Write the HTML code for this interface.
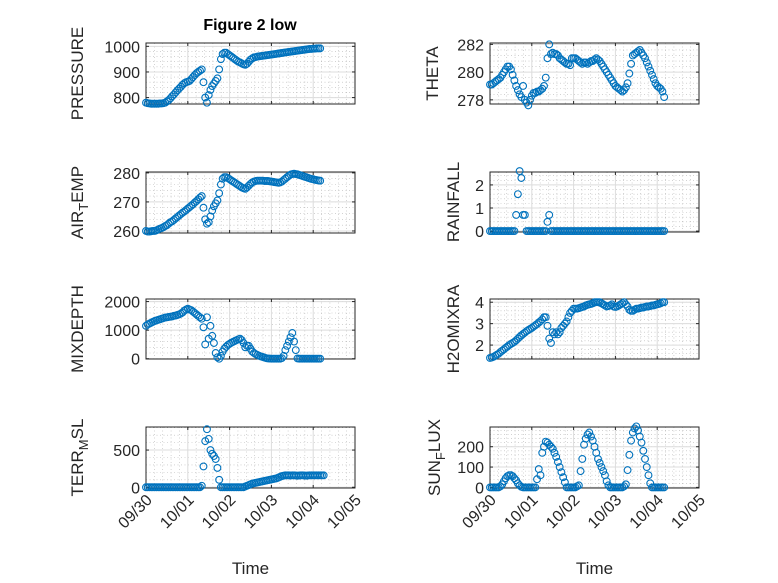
<!DOCTYPE html>
<html><head><meta charset="utf-8">
<style>
html,body{margin:0;padding:0;background:#fff;}
svg{display:block;font-family:"Liberation Sans",sans-serif;}
</style></head>
<body>
<svg id="fig" width="778" height="583" viewBox="0 0 778 583">
<rect x="0" y="0" width="778" height="583" fill="#fff"/>
<text x="250" y="30" text-anchor="middle" font-size="16" font-weight="bold" fill="#000">Figure 2 low</text>
</svg>
<script>
// x categories: hourly samples starting 09/30 00:00 (days since 09/30)
const xTickLabels = ["09/30","10/01","10/02","10/03","10/04","10/05"];
const pressure = [780,778,777,776,776,776,776,776,777,777,778,780,785,
790,797,805,812,820,828,835,842,850,856,860,862,865,872,880,888,895,900,905,910,
860,800,780,810,830,845,855,865,875,910,950,970,975,975,970,
965,960,955,950,945,940,937,933,930,928,932,940,948,953,957,
958,960,961,962,963,964,965,966,967,968,969,970,971,972,973,
974,975,976,977,978,979,980,981,982,983,984,985,986,987,988,989,990,990,991,991,992,992,992];
const airTemp = [260,259.8,259.8,259.9,260,260,260.2,260.5,260.8,261,
261.3,261.7,262,262.5,263,263.3,263.8,264.3,264.8,265.3,265.8,266.3,266.7,267.2,267.7,268.2,268.7,269.2,269.8,270.3,270.9,271.5,272,
268,264,262.5,263,265,267,268.5,269.5,270.5,273,276,278,278.5,278.5,278.2,
277.8,277.4,277,276.6,276.2,275.8,275.4,275,274.7,274.5,275,275.6,276.2,276.7,277,
277.2,277.3,277.3,277.3,277.3,277.2,277.2,277.2,277.1,277,276.9,276.8,276.7,276.6,276.7,277,
277.5,278,278.5,279,279.4,279.6,279.7,279.6,279.5,279.3,279.1,278.9,278.7,278.5,278.3,278.1,277.9,277.8,277.6,277.5,277.4,277.3];
const mixDepth = [1150,1200,1230,1260,1290,1320,1340,1360,1380,1400,1420,1440,1450,
1460,1470,1480,1500,1510,1530,1550,1580,1620,1680,1720,1750,
1720,1700,1650,1600,1550,1500,1450,1400,
1100,500,1450,700,1150,800,550,200,
50,0,100,250,350,420,480,520,
560,590,620,650,680,700,650,550,400,450,450,350,
250,200,160,130,100,80,60,40,20,10,5,0,
0,0,0,0,0,20,100,
300,450,600,750,900,600,300,
10,0,0,0,0,0,0,0,0,0,0,0,0,0];
const terrMsl = [0,0,0,0,0,0,0,0,0,0,0,0,0,0,0,0,0,0,0,0,0,0,0,0,0,0,0,0,0,0,0,0,
20,280,620,780,650,500,450,420,380,260,100,
0,0,0,0,0,0,0,0,0,0,0,0,0,0,
10,20,30,40,50,55,60,65,70,75,80,85,90,95,100,105,110,115,120,130,140,150,155,160,160,160,
158,160,160,158,156,158,160,160,158,156,158,160,160,160,160,160,160,160,160,160];
const theta = [279.1,279.1,279.2,279.3,279.4,279.5,279.6,279.8,280,280.2,280.4,280.4,280.2,
279.8,279.4,279,278.7,278.4,278.2,279,278,277.8,277.6,
278,278.3,278.5,278.5,278.6,278.6,278.7,278.8,279,279.6,
281,282,281.3,281.4,281.3,281.3,281.2,281,
280.9,280.8,280.7,280.6,280.6,280.5,281,281,
281,280.9,280.8,280.7,280.6,280.7,280.7,280.6,280.7,280.8,280.8,280.9,281,280.9,280.8,
280.6,280.4,280.2,280,279.8,279.6,279.4,279.2,279,278.9,278.8,278.7,278.6,278.7,278.9,
279.2,279.9,280.6,281.2,281.3,281.4,281.5,281.6,
281.4,281.2,281,280.7,280.4,280.1,279.8,279.5,279.2,279,278.9,278.8,278.6,278.2];
const rainfall = [0,0,0,0,0,0,0,0,0,0,0,0,0,0,0,0.7,1.6,2.6,2.3,0.7,0.7,0,0,0,0,0,0,0,0,0,0,0,0,0.4,0.7,
0,0,0,0,0,0,0,0,0,0,0,0,0,0,0,0,0,0,0,0,0,0,0,0,0,0,0,0,0,0,0,0,0,0,0,0,0,0,0,0,0,0,0,0,0,0,0,0,0,0,0,0,0,0,0,0,0,0,0,0,0,0,0,0,0,0];
const h2oMix = [1.4,1.42,1.45,1.5,1.55,1.6,1.67,1.74,1.8,1.87,1.93,2.0,2.05,2.1,2.15,2.22,2.3,2.38,2.45,2.52,2.58,2.65,2.7,2.75,2.8,2.86,2.92,2.98,3.05,3.12,3.2,3.3,
3.3,2.9,2.3,2.1,2.6,2.5,2.6,
2.5,2.6,2.8,2.9,3.0,3.1,3.3,3.5,3.6,
3.7,3.7,3.7,3.72,3.75,3.78,3.8,3.85,3.88,3.9,
3.92,3.95,4.0,4.0,4.0,4.0,3.95,3.9,3.85,3.8,3.82,3.85,3.9,3.8,3.78,3.8,3.85,3.9,
3.95,4.0,3.9,3.8,3.65,3.6,3.6,3.65,3.7,3.7,3.72,3.75,3.75,3.78,3.8,3.8,3.82,3.85,3.85,3.88,3.9,3.92,3.95,4.0,4.0];
const sunFlux = [0,0,0,0,0,0,
5,15,30,45,55,60,60,55,45,35,20,10,3,0,
0,0,0,0,0,0,0,
40,90,60,170,
200,225,220,210,200,190,
170,150,125,100,75,50,25,0,
0,0,0,0,0,5,10,
80,140,210,240,260,
270,250,230,200,
170,140,120,100,80,60,30,10,0,
0,0,0,0,0,0,0,5,15,
85,160,230,270,290,300,
280,250,220,180,140,100,60,20,0,
0,0,0,0,0,0,0];
const pressureTicks = [800,900,1000];
const airTempTicks = [260,270,280];
const mixDepthTicks = [0,1000,2000];
const terrTicks = [0,500];
const thetaTicks = [278,280,282];
const rainTicks = [0,1,2];
const h2oTicks = [2,3,4];
const sunTicks = [0,100,200];

const NS = "http://www.w3.org/2000/svg";
const svg = document.getElementById('fig');
function mk(tag, attrs, parent){
  const e = document.createElementNS(NS, tag);
  for (const k in attrs) e.setAttribute(k, attrs[k]);
  (parent||svg).appendChild(e);
  return e;
}
const panels = [
  {name:'pressure', x0:146,x1:355,y0:43,y1:104, ylim:[775,1013], ticks:pressureTicks, data:pressure, label:['PRESSURE'], lx:83, bottom:false},
  {name:'air-temp', x0:146,x1:355,y0:172,y1:233, ylim:[259.3,280.3], ticks:airTempTicks, data:airTemp, label:['AIR','T','EMP'], lx:83, bottom:false},
  {name:'mixdepth', x0:146,x1:355,y0:299,y1:359, ylim:[-10,2090], ticks:mixDepthTicks, data:mixDepth, label:['MIXDEPTH'], lx:83, bottom:false},
  {name:'terr-msl', x0:146,x1:355,y0:427,y1:488, ylim:[-10,810], ticks:terrTicks, data:terrMsl, label:['TERR','M','SL'], lx:83, bottom:true},
  {name:'theta', x0:490,x1:699,y0:43,y1:104, ylim:[277.7,282.1], ticks:thetaTicks, data:theta, label:['THETA'], lx:438, bottom:false},
  {name:'rainfall', x0:490,x1:699,y0:172,y1:232, ylim:[-0.04,2.56], ticks:rainTicks, data:rainfall, label:['RAINFALL'], lx:459, bottom:false},
  {name:'h2omixra', x0:490,x1:699,y0:299,y1:359, ylim:[1.35,4.15], ticks:h2oTicks, data:h2oMix, label:['H2OMIXRA'], lx:459, bottom:false},
  {name:'sun-flux', x0:490,x1:699,y0:427,y1:488, ylim:[-3,297], ticks:sunTicks, data:sunFlux, label:['SUN','F','LUX'], lx:440, bottom:true},
];
panels.forEach(p=>{
  const g = mk('g',{});
  
  
  const xs = d => p.x0 + (d/5)*(p.x1-p.x0);
  const ys = v => p.y1 - (v-p.ylim[0])/(p.ylim[1]-p.ylim[0])*(p.y1-p.y0);
  mk('rect',{x:p.x0,y:p.y0,width:p.x1-p.x0,height:p.y1-p.y0,fill:'#fff'},g);
  for (let d=0; d<5; d+=1){
    for (let m=1;m<5;m++){
      const x = xs(d+m*0.2);
      mk('line',{x1:x,x2:x,y1:p.y0,y2:p.y1,stroke:'#b8b8b8','stroke-width':0.6,'stroke-dasharray':'1,2.5'},g);
    }
  }
  const step = p.ticks[1]-p.ticks[0];
  for (let v=p.ticks[0]-step; v<=p.ylim[1]+step; v+=step/5){
    if (v<p.ylim[0]||v>p.ylim[1]) continue;
    const y = ys(v);
    mk('line',{x1:p.x0,x2:p.x1,y1:y,y2:y,stroke:'#b8b8b8','stroke-width':0.6,'stroke-dasharray':'1,2.5'},g);
  }
  for (let d=1; d<5; d++){
    const x = xs(d);
    mk('line',{x1:x,x2:x,y1:p.y0,y2:p.y1,stroke:'#dcdcdc','stroke-width':1},g);
  }
  p.ticks.forEach(v=>{
    const y = ys(v);
    mk('line',{x1:p.x0,x2:p.x1,y1:y,y2:y,stroke:'#dcdcdc','stroke-width':1},g);
    mk('line',{x1:p.x0,x2:p.x0+3,y1:y,y2:y,stroke:'#262626','stroke-width':1},g);
    mk('line',{x1:p.x1-3,x2:p.x1,y1:y,y2:y,stroke:'#262626','stroke-width':1},g);
    const t = mk('text',{x:p.x0-6,y:y+6,'text-anchor':'end','font-size':16,fill:'#262626'},g);
    
    
    t.textContent = String(v);
  });
  xTickLabels.forEach((lab,i)=>{
    const x = xs(i);
    mk('line',{x1:x,x2:x,y1:p.y1,y2:p.y1-3,stroke:'#262626','stroke-width':1},g);
    mk('line',{x1:x,x2:x,y1:p.y0,y2:p.y0+3,stroke:'#262626','stroke-width':1},g);
    if (p.bottom){
      const tx = x+7, ty = p.y1+13;
      const t = mk('text',{x:tx,y:ty,'text-anchor':'end','font-size':16,fill:'#262626',transform:'rotate(-45 '+tx+' '+ty+')'},g);
      
      
      t.textContent = lab;
    }
  });
  mk('rect',{x:p.x0,y:p.y0,width:p.x1-p.x0,height:p.y1-p.y0,fill:'none',stroke:'#262626','stroke-width':1},g);
  const cy = (p.y0+p.y1)/2;
  const yl = mk('text',{x:p.lx,y:cy,'text-anchor':'middle','font-size':17,fill:'#262626',transform:'rotate(-90 '+p.lx+' '+cy+')'},g);
  
  
  if (p.label.length===1){ yl.textContent = p.label[0]; }
  else {
    const a = mk('tspan',{},yl); a.textContent = p.label[0];
    const b = mk('tspan',{dy:5,'font-size':13},yl); b.textContent = p.label[1];
    const c = mk('tspan',{dy:-5},yl); c.textContent = p.label[2];
  }
  p.data.forEach((v,i)=>{
    const c = mk('circle',{cx:xs(i/24),cy:ys(v),r:3.4,fill:'none',stroke:'#0072BD','stroke-width':1.1},g);
    
    
  });
  if (p.bottom){
    const tl = mk('text',{x:(p.x0+p.x1)/2,y:574,'text-anchor':'middle','font-size':17,fill:'#262626'},g);
    
    
    tl.textContent = 'Time';
  }
});
</script>
</body></html>
